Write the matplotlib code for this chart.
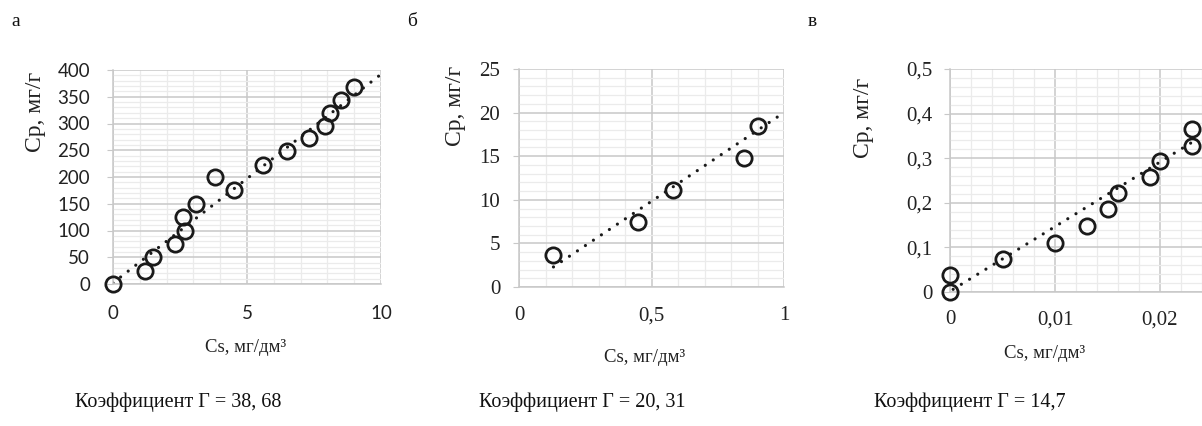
import matplotlib.pyplot as plt
import numpy as np
from matplotlib.ticker import MultipleLocator, FuncFormatter

# panel а
a_x = [0, 1.2, 1.5, 2.3, 2.6, 2.7, 3.1, 3.8, 4.5, 5.6, 6.5, 7.3, 7.9, 8.1, 8.5, 9.0]
a_y = [0, 25, 50, 75, 125, 100, 150, 200, 175, 222, 248, 272, 295, 320, 343, 368]
a_trend_x = [0, 10]
a_trend_y = [2, 392]

# panel б
b_x = [0.13, 0.45, 0.58, 0.85, 0.90]
b_y = [3.7, 7.4, 11.1, 14.8, 18.5]
b_trend_x = [0.13, 0.99]
b_trend_y = [2.3, 19.8]

# panel в
c_x = [0, 0, 0.005, 0.010, 0.013, 0.015, 0.016, 0.019, 0.020, 0.023, 0.023]
c_y = [0, 0.037, 0.075, 0.110, 0.148, 0.185, 0.222, 0.258, 0.293, 0.328, 0.365]
c_trend_x = [0.0003, 0.023]
c_trend_y = [0.006, 0.335]

captions = ["Коэффициент Г = 38, 68", "Коэффициент Г = 20, 31", "Коэффициент Г = 14,7"]
letters = ["а", "б", "в"]

W, H = 1202, 426
fig = plt.figure(figsize=(W / 100, H / 100), dpi=100)


def px_rect(x0, x1, y0, y1):
    return [x0 / W, 1 - y1 / H, (x1 - x0) / W, (y1 - y0) / H]


def comma(v, pos):
    s = f"{v:g}"
    return s.replace(".", ",")


SERIF = "Liberation Serif"
SANS = "Lato"
major_c = "#c8c8c8"
minor_c = "#ebebeb"


def setup(ax, xlim, ylim, xmaj, xmin, ymaj, ymin, tickfont, tsize, ypad, xpad):
    ax.set_xlim(*xlim)
    ax.set_ylim(*ylim)
    ax.xaxis.set_major_locator(MultipleLocator(xmaj))
    ax.xaxis.set_minor_locator(MultipleLocator(xmin))
    ax.yaxis.set_major_locator(MultipleLocator(ymaj))
    ax.yaxis.set_minor_locator(MultipleLocator(ymin))
    ax.grid(True, which="major", color=major_c, lw=1.1)
    ax.grid(True, which="minor", color=minor_c, lw=0.9)
    ax.set_axisbelow(True)
    for s in ["top", "right"]:
        ax.spines[s].set_visible(False)
    for s in ["left", "bottom"]:
        ax.spines[s].set_color(major_c)
        ax.spines[s].set_linewidth(1.1)
    ax.tick_params(which="minor", length=0)
    ax.tick_params(axis="y", which="major", length=4, color=major_c, pad=ypad)
    ax.tick_params(axis="x", which="major", length=0, pad=xpad)
    ax.xaxis.set_major_formatter(FuncFormatter(comma))
    ax.yaxis.set_major_formatter(FuncFormatter(comma))
    for lab in ax.get_xticklabels() + ax.get_yticklabels():
        lab.set_fontfamily(tickfont)
        lab.set_fontsize(tsize)
        lab.set_color("#222222")


def draw(ax, x, y, tx, ty):
    ax.plot(tx, ty, color="#1a1a1a", lw=2.3, linestyle=(0, (0.01, 3.0)),
            dash_capstyle="round", zorder=2)
    ax.plot(x, y, "o", ms=11, mfc="none", mec="#1a1a1a", mew=2.0,
            clip_on=False, zorder=3)


ax1 = fig.add_axes(px_rect(113, 381, 70, 284))
draw(ax1, a_x, a_y, a_trend_x, a_trend_y)
setup(ax1, (0, 10), (0, 400), 5, 1, 50, 10, SANS, 13.5, 12.5, 15)

ax2 = fig.add_axes(px_rect(519, 784, 69, 287))
draw(ax2, b_x, b_y, b_trend_x, b_trend_y)
setup(ax2, (0, 1), (0, 25), 0.5, 0.1, 5, 1, SERIF, 15, 9.5, 14)

ax3 = fig.add_axes(px_rect(950, 1212.5, 69, 292))
draw(ax3, c_x, c_y, c_trend_x, c_trend_y)
setup(ax3, (0, 0.025), (0, 0.5), 0.01, 0.002, 0.1, 0.02, SERIF, 15, 8.5, 13)


def ftext(x, y, s, **kw):
    fig.text(x / W, 1 - y / H, s, **kw)


ylabel = "Cp, мг/г"
xlabel = "Cs, мг/дм³"
for xp, yp in [(35, 112), (456, 106), (863, 118)]:
    ftext(xp, yp, ylabel, rotation=90, ha="center", va="center",
          fontfamily=SERIF, fontsize=17, color="#222222")
for xp, yp in [(246, 347), (645, 358), (1045, 354)]:
    ftext(xp, yp, xlabel, ha="center", va="center",
          fontfamily=SERIF, fontsize=13.5, color="#222222")
for xp, s in zip([178, 582, 970], captions):
    ftext(xp, 402, s, ha="center", va="center",
          fontfamily=SERIF, fontsize=14.5, color="#111111")
for xp, s in zip([16, 412, 812], letters):
    ftext(xp, 22, s, ha="center", va="center",
          fontfamily=SERIF, fontsize=14, color="#111111")

fig.savefig("out.png", dpi=100)
